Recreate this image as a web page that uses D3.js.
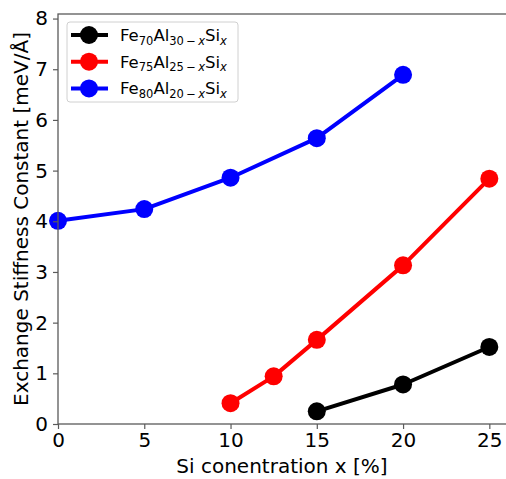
<!DOCTYPE html>
<html>
<head>
<meta charset="utf-8">
<script src="https://cdn.jsdelivr.net/npm/d3@7"></script>
<style>
  body { margin: 0; background: #fff; }
  svg { font-family: "DejaVu Sans", sans-serif; }
</style>
</head>
<body>
<svg id="chart" width="506" height="479"></svg>
<script>
const xTicks = [0, 5, 10, 15, 20, 25];
const yTicks = [0, 1, 2, 3, 4, 5, 6, 7, 8];

const fe70X = [15, 20, 25];
const fe70Y = [0.25, 0.78, 1.52];
const fe75X = [10, 12.5, 15, 20, 25];
const fe75Y = [0.41, 0.94, 1.66, 3.13, 4.84];
const fe80X = [0, 5, 10, 15, 20];
const fe80Y = [4.01, 4.24, 4.86, 5.64, 6.89];

const series = [
  { fe: "70", al: "30", color: "#000000", xs: fe70X, ys: fe70Y },
  { fe: "75", al: "25", color: "#ff0000", xs: fe75X, ys: fe75Y },
  { fe: "80", al: "20", color: "#0000ff", xs: fe80X, ys: fe80Y }
];

const svg = d3.select("#chart");
// the right spine sits just outside the picture
const margin = { top: 14, right: -3, bottom: 55, left: 58 };
const W = 506, H = 479;

const x = d3.scaleLinear().domain([0, 26.14]).range([margin.left, W - margin.right]);
const y = d3.scaleLinear().domain([0, 8.09]).range([H - margin.bottom, margin.top]);

const spine = "#5a5a5a";
const fs = "20px";

// lines + markers
series.forEach(s => {
  const pts = s.xs.map((v, i) => [v, s.ys[i]]);
  svg.append("path")
    .datum(pts)
    .attr("fill", "none")
    .attr("stroke", s.color)
    .attr("stroke-width", 4)
    .attr("stroke-linejoin", "round")
    .attr("d", d3.line().x(d => x(d[0])).y(d => y(d[1])));
  svg.append("g").selectAll("circle")
    .data(pts)
    .join("circle")
    .attr("cx", d => x(d[0]))
    .attr("cy", d => y(d[1]))
    .attr("r", 9)
    .attr("fill", s.color);
});

// frame
svg.append("rect")
  .attr("x", margin.left).attr("y", margin.top)
  .attr("width", W - margin.right - margin.left)
  .attr("height", H - margin.bottom - margin.top)
  .attr("fill", "none").attr("stroke", spine).attr("stroke-width", 1.3);

// axes
const xAxis = svg.append("g")
  .attr("transform", `translate(0,${H - margin.bottom})`)
  .call(d3.axisBottom(x).tickValues(xTicks).tickSize(5).tickPadding(4).tickSizeOuter(0));
const yAxis = svg.append("g")
  .attr("transform", `translate(${margin.left},0)`)
  .call(d3.axisLeft(y).tickValues(yTicks).tickSize(5).tickPadding(5).tickSizeOuter(0));
[xAxis, yAxis].forEach(a => {
  a.select(".domain").remove();
  a.selectAll(".tick line").attr("stroke", spine).attr("stroke-width", 1.2);
  a.selectAll(".tick text").attr("fill", "#000").style("font-size", fs)
    .style("font-family", "DejaVu Sans");
});

svg.append("text")
  .attr("x", 282)
  .attr("y", 473)
  .attr("text-anchor", "middle")
  .style("font-size", fs)
  .text("Si conentration x [%]");

svg.append("text")
  .attr("transform", `translate(28,${(margin.top + H - margin.bottom) / 2}) rotate(-90)`)
  .attr("text-anchor", "middle")
  .style("font-size", fs)
  .text("Exchange Stiffness Constant [meV/Å]");

// legend
const lg = svg.append("g").attr("transform", "translate(67,22)");
lg.append("rect")
  .attr("width", 171).attr("height", 80).attr("rx", 3)
  .attr("fill", "#fff").attr("fill-opacity", 0.8)
  .attr("stroke", "#d0d0d0");
series.forEach((s, i) => {
  const cy = 13 + i * 26.7;
  lg.append("line")
    .attr("x1", 4).attr("x2", 41).attr("y1", cy).attr("y2", cy)
    .attr("stroke", s.color).attr("stroke-width", 4);
  lg.append("circle").attr("cx", 22).attr("cy", cy).attr("r", 9).attr("fill", s.color);
  const t = lg.append("text").attr("x", 53).attr("y", cy + 6).style("font-size", "16.5px");
  t.append("tspan").text("Fe");
  t.append("tspan").attr("dy", 3.5).style("font-size", "11.5px").text(s.fe);
  t.append("tspan").attr("dy", -3.5).text("Al");
  t.append("tspan").attr("dy", 3.5).style("font-size", "11.5px").text(s.al + "\u2009\u2212\u2009");
  t.append("tspan").style("font-size", "11.5px").style("font-style", "italic").text("x");
  t.append("tspan").attr("dy", -3.5).text("Si");
  t.append("tspan").attr("dy", 3.5).style("font-size", "11.5px").style("font-style", "italic").text("x");
});
</script>
</body>
</html>
